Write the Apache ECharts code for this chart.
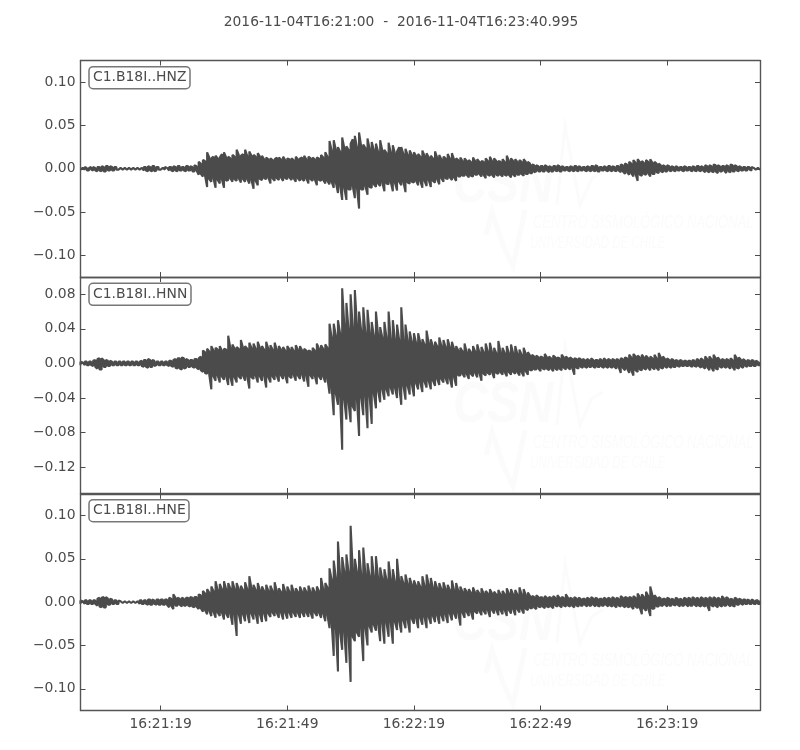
<!DOCTYPE html>
<html><head><meta charset="utf-8">
<style>html,body{margin:0;padding:0;background:#fff}#c{width:800px;height:750px}</style>
<script src="https://cdn.jsdelivr.net/npm/echarts@6/dist/echarts.min.js"></script>
</head><body><div id="c"></div>
<script>
// Envelope of each trace, one value every half second, in thousandths of the axis unit
const hnzUpper = [
1,1,2,1,1,2,2,1,2,2,3,2,3,3,3,2,2,2,1,1,
1,1,1,1,1,1,1,1,1,1,2,2,3,2,3,3,2,2,1,1,
2,1,2,2,3,2,3,3,2,2,3,3,3,2,4,3,8,6,10,9,
19,13,12,14,15,12,13,17,19,13,14,12,16,14,22,16,15,17,22,15,
20,15,16,14,18,14,15,11,13,11,12,10,11,13,13,11,14,10,12,11,
12,10,14,11,12,13,15,11,14,12,13,11,13,12,16,13,19,14,32,21,
33,22,25,20,36,24,26,22,29,34,38,25,42,26,28,24,35,23,31,22,
29,20,33,21,22,18,30,19,27,18,20,25,25,17,23,16,21,16,19,15,
17,14,21,15,18,13,15,12,20,13,16,11,14,12,17,12,18,11,12,10,
13,9,12,9,10,8,13,9,11,8,9,8,12,9,14,9,12,9,9,8,
11,8,15,9,12,9,11,8,10,8,11,8,8,6,5,4,4,3,3,3,
4,3,3,2,3,3,4,3,3,2,2,2,3,2,3,3,3,2,2,2,
3,2,3,3,4,3,2,2,3,2,3,3,3,2,3,3,5,4,6,5,
8,6,10,7,11,8,9,7,10,8,11,7,8,6,6,4,4,3,4,3,
3,2,3,2,2,2,3,2,2,2,3,2,3,3,3,2,4,3,4,3,
5,4,4,3,3,3,4,3,5,4,4,3,3,2,2,2,2,2,2,1,
1,1,1];
const hnzLower = [
-1,-1,-1,-2,-2,-1,-2,-2,-3,-2,-3,-3,-3,-2,-2,-2,-2,-1,-1,-1,
-1,-1,-1,-1,-1,-1,-1,-1,-1,-1,-2,-2,-3,-2,-3,-3,-2,-1,-1,-1,
-1,-1,-2,-2,-3,-2,-3,-2,-2,-2,-3,-2,-2,-3,-3,-2,-7,-6,-9,-8,
-21,-12,-15,-11,-22,-13,-17,-12,-22,-14,-13,-11,-15,-12,-14,-11,-16,-12,-15,-12,
-17,-13,-23,-14,-19,-12,-13,-11,-12,-10,-17,-11,-14,-11,-13,-10,-14,-11,-12,-10,
-13,-11,-15,-11,-14,-12,-14,-11,-17,-12,-14,-12,-19,-13,-14,-13,-17,-14,-18,-15,
-22,-16,-28,-20,-36,-22,-36,-24,-24,-20,-34,-22,-46,-24,-24,-20,-30,-21,-22,-18,
-21,-17,-20,-16,-26,-17,-18,-15,-26,-16,-25,-15,-19,-15,-27,-16,-17,-15,-16,-14,
-19,-14,-22,-14,-20,-13,-21,-14,-16,-12,-18,-11,-15,-11,-12,-10,-13,-10,-14,-9,
-9,-8,-8,-7,-10,-8,-9,-7,-7,-6,-9,-7,-11,-7,-8,-7,-10,-7,-8,-7,
-9,-7,-8,-7,-10,-7,-9,-7,-7,-6,-8,-6,-6,-5,-5,-4,-3,-3,-3,-3,
-3,-2,-4,-3,-3,-2,-3,-3,-3,-2,-2,-2,-3,-2,-3,-2,-3,-2,-2,-2,
-3,-2,-3,-2,-3,-3,-3,-2,-2,-2,-3,-2,-3,-2,-3,-2,-4,-3,-6,-4,
-7,-5,-9,-6,-14,-7,-8,-6,-7,-5,-9,-6,-6,-4,-5,-3,-4,-3,-3,-2,
-3,-2,-3,-2,-2,-2,-3,-2,-2,-2,-3,-2,-3,-2,-3,-2,-4,-3,-4,-3,
-4,-3,-5,-3,-3,-2,-5,-3,-4,-3,-3,-2,-3,-2,-2,-2,-2,-1,-2,-1,
-1,-1,-1];
const hnnUpper = [
2,1,2,2,2,2,3,4,5,6,6,4,4,3,3,2,2,2,2,2,
2,2,2,2,2,2,2,2,2,3,4,4,5,4,4,3,2,2,2,2,
2,2,3,3,4,5,6,6,7,6,5,4,4,4,5,5,6,8,15,13,
17,14,20,15,18,16,20,15,17,16,32,18,22,17,19,17,27,18,20,17,
24,18,23,17,25,18,20,16,25,17,21,16,24,16,20,16,19,15,20,16,
19,15,21,16,20,15,17,15,15,14,18,15,23,17,21,17,22,18,46,30,
46,32,50,35,87,45,70,40,80,42,85,45,60,38,65,35,62,35,48,32,
60,33,42,30,48,30,60,28,50,28,45,27,65,27,45,26,37,25,35,24,
35,24,28,22,38,23,28,20,25,20,30,20,27,19,28,19,25,17,20,15,
18,14,23,13,17,13,20,14,22,13,19,13,23,14,24,13,18,12,26,13,
18,12,20,12,22,12,20,11,16,10,18,11,13,9,10,8,9,7,8,7,
11,7,8,6,9,7,7,6,10,7,8,6,7,5,6,5,6,5,5,4,
5,4,6,4,4,4,5,4,6,4,5,4,5,4,5,4,6,5,7,6,
10,7,11,8,9,7,10,7,9,6,8,6,10,6,12,7,8,5,6,4,
5,4,4,3,4,3,3,3,3,3,4,3,5,4,6,4,8,5,8,5,
10,6,7,4,5,4,5,4,6,4,10,6,7,4,5,3,4,3,4,3,
3,2,2];
const hnnLower = [
-2,-1,-2,-2,-2,-2,-3,-4,-6,-7,-7,-4,-4,-3,-3,-2,-2,-2,-2,-2,
-2,-2,-2,-2,-2,-2,-2,-2,-2,-3,-4,-4,-5,-4,-4,-3,-2,-2,-2,-2,
-2,-2,-3,-3,-4,-5,-6,-6,-7,-6,-5,-4,-4,-4,-5,-5,-7,-8,-10,-11,
-12,-13,-30,-15,-20,-14,-22,-15,-19,-15,-25,-16,-26,-16,-22,-15,-18,-14,-20,-15,
-29,-16,-18,-14,-22,-15,-20,-14,-28,-16,-22,-15,-19,-14,-21,-14,-18,-14,-23,-15,
-17,-13,-20,-14,-18,-13,-21,-14,-27,-14,-18,-14,-24,-15,-19,-15,-22,-17,-35,-28,
-60,-35,-48,-38,-100,-42,-65,-45,-68,-50,-55,-42,-84,-40,-60,-38,-75,-38,-70,-35,
-52,-32,-45,-30,-42,-30,-38,-28,-36,-28,-40,-27,-48,-26,-42,-26,-36,-24,-38,-23,
-30,-22,-33,-21,-28,-20,-30,-20,-26,-18,-25,-18,-22,-17,-24,-17,-28,-16,-26,-14,
-14,-12,-16,-12,-18,-12,-15,-11,-16,-11,-20,-12,-14,-11,-13,-10,-17,-11,-12,-10,
-13,-10,-15,-10,-13,-10,-12,-10,-14,-10,-15,-9,-13,-8,-8,-7,-7,-6,-9,-6,
-7,-6,-8,-6,-9,-6,-8,-6,-8,-5,-7,-5,-7,-5,-13,-5,-6,-4,-5,-4,
-5,-4,-4,-4,-5,-4,-4,-4,-5,-4,-5,-4,-5,-4,-6,-4,-11,-5,-8,-6,
-11,-8,-14,-8,-10,-7,-8,-6,-7,-5,-8,-5,-7,-5,-8,-5,-6,-4,-5,-4,
-5,-4,-4,-3,-4,-3,-3,-3,-3,-3,-4,-3,-4,-3,-5,-4,-6,-4,-8,-5,
-9,-6,-7,-4,-5,-4,-5,-4,-6,-4,-8,-5,-6,-4,-5,-3,-4,-3,-3,-3,
-3,-2,-2];
const hneUpper = [
2,1,2,2,2,2,2,2,4,5,5,6,6,4,4,3,2,2,2,1,
1,1,1,1,1,1,1,1,2,2,2,2,3,3,3,2,3,3,3,3,
3,3,5,4,9,5,5,4,5,4,5,5,6,5,6,6,9,8,13,10,
15,11,18,13,24,14,21,15,24,15,22,16,24,15,22,15,19,14,23,15,
30,16,20,14,22,14,18,13,20,13,19,13,23,13,16,12,21,12,18,12,
20,12,16,12,18,12,17,12,19,12,17,12,18,13,28,15,22,17,39,26,
48,28,70,32,52,35,55,35,88,38,50,35,60,32,63,32,45,30,53,30,
53,28,40,27,38,26,47,26,38,24,50,24,30,22,32,21,28,20,25,19,
24,18,30,19,32,20,28,17,24,16,22,15,23,15,20,14,25,14,22,13,
18,12,16,12,15,11,17,11,14,10,16,10,13,10,15,10,12,9,14,9,
13,9,16,10,15,9,14,9,17,9,15,8,11,7,7,6,8,6,6,5,
7,5,6,5,7,5,8,5,6,5,9,5,5,4,6,4,5,4,4,4,
5,4,6,4,5,4,4,4,5,4,5,4,6,4,5,4,7,5,6,5,
6,5,7,5,10,6,9,6,12,7,18,8,8,5,6,4,4,4,5,4,
4,3,5,4,4,3,5,4,5,4,6,4,5,4,6,4,5,4,6,4,
6,4,5,4,7,4,6,4,4,3,5,4,4,3,3,3,3,2,3,2,
2,2,2];
const hneLower = [
-2,-1,-2,-2,-2,-2,-2,-2,-4,-5,-6,-6,-6,-3,-3,-2,-2,-2,-2,-1,
-1,-1,-1,-1,-1,-1,-1,-1,-2,-2,-2,-2,-3,-3,-3,-2,-3,-3,-3,-3,
-3,-3,-6,-4,-8,-4,-4,-3,-5,-4,-4,-4,-5,-5,-6,-5,-8,-7,-11,-9,
-14,-10,-16,-11,-18,-12,-16,-12,-20,-13,-18,-13,-26,-14,-39,-14,-25,-14,-22,-13,
-24,-13,-20,-13,-25,-14,-23,-13,-22,-13,-17,-12,-16,-12,-18,-12,-20,-12,-19,-12,
-18,-12,-17,-12,-18,-12,-17,-12,-17,-12,-19,-12,-16,-12,-18,-13,-22,-15,-30,-24,
-62,-30,-80,-35,-55,-35,-70,-38,-92,-40,-45,-35,-40,-30,-68,-30,-50,-28,-35,-26,
-33,-25,-45,-24,-48,-24,-40,-23,-48,-23,-32,-22,-35,-21,-30,-20,-35,-19,-25,-18,
-30,-18,-26,-17,-30,-17,-25,-16,-23,-15,-25,-15,-22,-14,-24,-13,-21,-13,-19,-12,
-27,-12,-18,-11,-16,-11,-20,-11,-13,-10,-15,-10,-14,-9,-17,-9,-13,-9,-15,-9,
-14,-9,-16,-9,-13,-8,-15,-8,-12,-8,-13,-8,-9,-7,-7,-6,-8,-5,-6,-5,
-7,-5,-6,-5,-7,-4,-5,-4,-6,-4,-5,-4,-5,-4,-6,-4,-5,-4,-4,-3,
-5,-4,-4,-3,-5,-4,-5,-4,-4,-3,-5,-4,-5,-4,-6,-4,-5,-4,-6,-5,
-6,-5,-8,-5,-7,-6,-14,-7,-10,-7,-16,-8,-7,-5,-5,-4,-4,-3,-5,-4,
-4,-3,-4,-3,-5,-4,-4,-3,-5,-4,-4,-3,-5,-4,-5,-4,-5,-4,-10,-4,
-5,-4,-6,-4,-5,-4,-4,-3,-5,-4,-5,-3,-3,-2,-3,-2,-2,-2,-2,-2,
-2,-2,-2];

const traceNames = ['C1.B18I..HNZ','C1.B18I..HNN','C1.B18I..HNE'];
const timeTicks = [19,49,79,109,139];
const timeLabels = ['16:21:19','16:21:49','16:22:19','16:22:49','16:23:19'];
const duration = 160.995;
const sampleStep = 0.5;
const yTicksZ = [-0.1,-0.05,0,0.05,0.1];
const yTicksN = [-0.12,-0.08,-0.04,0,0.04,0.08];
const yTicksE = [-0.1,-0.05,0,0.05,0.1];
const titleText = '2016-11-04T16:21:00  -  2016-11-04T16:23:40.995';

const INK = '#4b4b4b', FONT = '"DejaVu Sans"', FS = 13.9, MARK = '#fbfbfb';
const panels = [
 {up:hnzUpper, lo:hnzLower, ticks:yTicksZ, min:-0.125, max:0.125, top:60.5, h:216.5, boxTop:66.7, wm:0},
 {up:hnnUpper, lo:hnnLower, ticks:yTicksN, min:-0.15, max:0.1, top:277, h:216, boxTop:283.3, wm:220},
 {up:hneUpper, lo:hneLower, ticks:yTicksE, min:-0.125, max:0.125, top:493.8, h:216.7, boxTop:499.7, wm:438}
];
const grids=[],xAxes=[],yAxes=[],series=[],titles=[],graphics=[];
titles.push({text:titleText,left:396,top:9,textAlign:'center',textStyle:{color:INK,fontFamily:FONT,fontSize:13.8,fontWeight:'normal',lineHeight:16}});
const line={show:true,onZero:false,lineStyle:{color:'#555',width:1.4}};
const yFmt=v=>(v<0?'\u2212':'')+Math.abs(v).toFixed(2);
panels.forEach((p,i)=>{
  grids.push({left:80.5,width:679.5,top:p.top,height:p.h});
  const isLast=i===2;
  const xTick={show:true,inside:true,length:5,customValues:timeTicks,lineStyle:{color:INK,width:1}};
  xAxes.push({gridIndex:i,type:'value',position:'bottom',z:6,min:0,max:duration,axisLine:line,splitLine:{show:false},axisTick:xTick,
    axisLabel:{show:isLast,customValues:timeTicks,color:INK,fontFamily:FONT,fontSize:FS,margin:6.5,formatter:v=>timeLabels[timeTicks.indexOf(v)]||''}});
  xAxes.push({gridIndex:i,type:'value',position:'top',z:6,min:0,max:duration,axisLine:line,splitLine:{show:false},axisTick:xTick,axisLabel:{show:false}});
  const yTick={show:true,inside:true,length:5,customValues:p.ticks,lineStyle:{color:INK,width:1}};
  yAxes.push({gridIndex:i,type:'value',position:'left',z:6,min:p.min,max:p.max,axisLine:line,splitLine:{show:false},axisTick:yTick,
    axisLabel:{show:true,customValues:p.ticks,color:INK,fontFamily:FONT,fontSize:FS,margin:5,formatter:yFmt}});
  yAxes.push({gridIndex:i,type:'value',position:'right',z:6,min:p.min,max:p.max,axisLine:line,splitLine:{show:false},axisTick:yTick,axisLabel:{show:false}});
  const pts=[];
  p.up.forEach((u,k)=>{
    const t=Math.min(k*sampleStep,duration), l=p.lo[k];
    if(k%2===0){pts.push([t,l/1000]);pts.push([t,u/1000]);}
    else{pts.push([t,u/1000]);pts.push([t,l/1000]);}
  });
  series.push({type:'line',name:traceNames[i],xAxisIndex:i*2,yAxisIndex:i*2,data:pts,showSymbol:false,symbol:'none',smooth:false,sampling:false,
    lineStyle:{color:INK,width:2.1,join:'bevel',cap:'butt'},animation:false,progressive:0,z:3,clip:true});
  titles.push({text:traceNames[i],left:89,top:p.boxTop,borderColor:'#777',borderWidth:1.5,borderRadius:4,padding:[3,4,3,4],backgroundColor:'#fff',
    textStyle:{color:INK,fontFamily:FONT,fontSize:FS,fontWeight:'normal',lineHeight:16},z:6});
  graphics.push({type:'group',x:0,y:p.wm,silent:true,z:1,children:[
    {type:'text',x:453,y:157,z:1,scaleX:0.82,style:{text:'CSN',fill:MARK,font:'italic bold 58px "Liberation Sans"'}},
    {type:'polyline',z:1,shape:{points:[[557,205],[565,126],[580,205],[592,178],[603,172]]},style:{stroke:MARK,lineWidth:3,fill:null}},
    {type:'polyline',z:1,shape:{points:[[486,235],[492,212],[503,245],[513,266],[525,210]]},style:{stroke:MARK,lineWidth:5,fill:null}},
    {type:'text',x:533,y:214,z:1,scaleX:0.72,style:{text:'CENTRO SISMOLÓGICO NACIONAL',fill:MARK,font:'italic 18px "Liberation Sans"'}},
    {type:'text',x:530,y:235,z:1,scaleX:0.68,style:{text:'UNIVERSIDAD DE CHILE',fill:MARK,font:'italic 17px "Liberation Sans"'}}
  ]});
});
const chart=echarts.init(document.getElementById('c'),null,{renderer:'canvas',width:800,height:750});
chart.setOption({animation:false,backgroundColor:'#fff',title:titles,grid:grids,xAxis:xAxes,yAxis:yAxes,series:series,graphic:graphics,tooltip:{show:false}});
</script></body></html>
